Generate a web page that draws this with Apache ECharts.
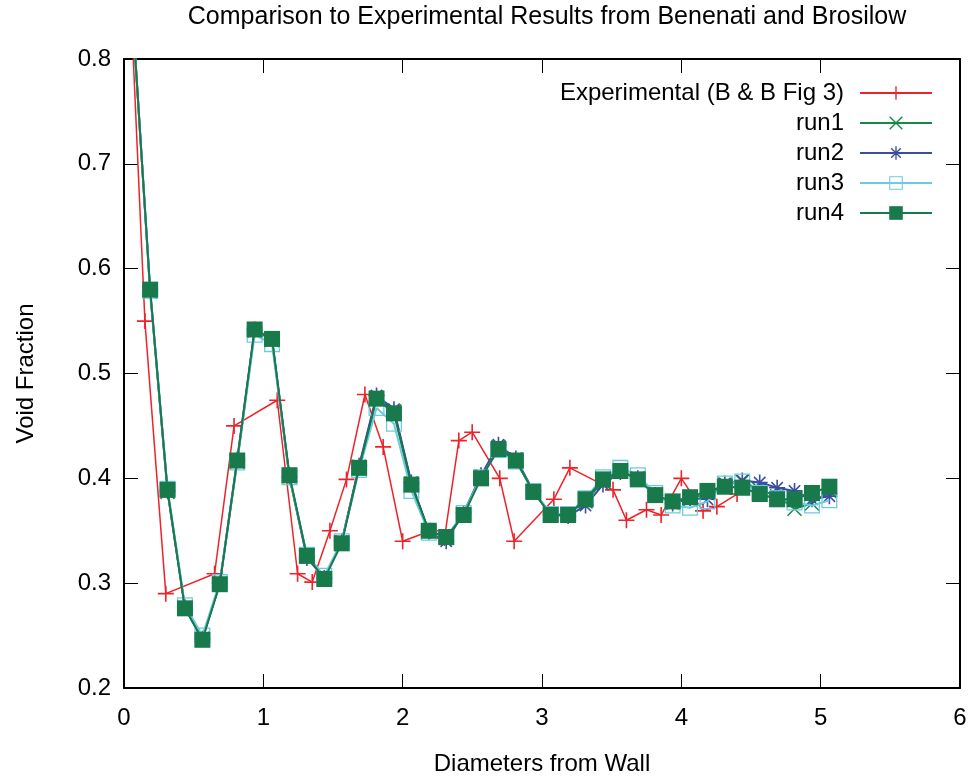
<!DOCTYPE html>
<html>
<head>
<meta charset="utf-8">
<script src="https://cdn.jsdelivr.net/npm/echarts@6/dist/echarts.min.js"></script>
<style>
html,body{margin:0;padding:0;background:#fff;}
#chart{width:971px;height:782px;}
</style>
</head>
<body>
<div id="chart"></div>
<script>
// Experimental (B & B Fig 3)
var expX = [0.0, 0.15, 0.30, 0.65, 0.79, 1.10, 1.246, 1.351, 1.478, 1.597, 1.729, 1.860, 2.0, 2.2, 2.3, 2.403, 2.499, 2.697, 2.80, 3.085, 3.20, 3.51, 3.606, 3.75, 3.855, 4.0, 4.156, 4.255, 4.4];
var expY = [1.0, 0.55, 0.290, 0.309, 0.450, 0.4745, 0.309, 0.301, 0.350, 0.399, 0.480, 0.430, 0.340, 0.350, 0.343, 0.436, 0.444, 0.400, 0.340, 0.380, 0.410, 0.389, 0.360, 0.370, 0.365, 0.400, 0.369, 0.373, 0.385];

// simulation bin centres
var runX = [0.0625, 0.1875, 0.3125, 0.4375, 0.5625, 0.6875, 0.8125, 0.9375, 1.0625, 1.1875,
            1.3125, 1.4375, 1.5625, 1.6875, 1.8125, 1.9375, 2.0625, 2.1875, 2.3125, 2.4375,
            2.5625, 2.6875, 2.8125, 2.9375, 3.0625, 3.1875, 3.3125, 3.4375, 3.5625, 3.6875,
            3.8125, 3.9375, 4.0625, 4.1875, 4.3125, 4.4375, 4.5625, 4.6875, 4.8125, 4.9375, 5.0625];

var run1 = [0.84, 0.578, 0.387, 0.276, 0.247, 0.299, 0.416, 0.541, 0.532, 0.402,
            0.326, 0.305, 0.339, 0.411, 0.477, 0.464, 0.395, 0.350, 0.343, 0.366,
            0.402, 0.430, 0.418, 0.388, 0.366, 0.366, 0.378, 0.397, 0.407, 0.400,
            0.384, 0.377, 0.380, 0.386, 0.394, 0.397, 0.389, 0.383, 0.371, 0.376, 0.388];
var run2 = [0.84, 0.580, 0.388, 0.277, 0.247, 0.300, 0.418, 0.542, 0.533, 0.401,
            0.324, 0.305, 0.340, 0.412, 0.479, 0.466, 0.396, 0.349, 0.340, 0.367,
            0.403, 0.432, 0.419, 0.388, 0.365, 0.364, 0.374, 0.394, 0.406, 0.400,
            0.384, 0.376, 0.381, 0.380, 0.395, 0.398, 0.396, 0.391, 0.388, 0.380, 0.383];
var run3 = [0.84, 0.579, 0.390, 0.279, 0.250, 0.301, 0.415, 0.537, 0.528, 0.401,
            0.327, 0.307, 0.340, 0.408, 0.467, 0.452, 0.388, 0.348, 0.344, 0.367,
            0.401, 0.427, 0.416, 0.388, 0.366, 0.366, 0.381, 0.401, 0.410, 0.403,
            0.386, 0.374, 0.372, 0.378, 0.395, 0.397, 0.386, 0.381, 0.377, 0.374, 0.379];
var run4 = [0.84, 0.580, 0.389, 0.276, 0.246, 0.299, 0.417, 0.542, 0.533, 0.403,
            0.326, 0.304, 0.338, 0.410, 0.476, 0.462, 0.394, 0.350, 0.344, 0.365,
            0.400, 0.428, 0.417, 0.387, 0.365, 0.365, 0.380, 0.399, 0.407, 0.399,
            0.384, 0.378, 0.382, 0.388, 0.392, 0.391, 0.385, 0.380, 0.380, 0.386, 0.392];

var xTicks = [0, 1, 2, 3, 4, 5, 6];
var yTicks = [0.2, 0.3, 0.4, 0.5, 0.6, 0.7, 0.8];

function pairs(xs, ys) { return xs.map(function (x, i) { return [x, ys[i]]; }); }

var PLUS = 'path://M-1,-10 L1,-10 L1,-1 L10,-1 L10,1 L1,1 L1,10 L-1,10 L-1,1 L-10,1 L-10,-1 L-1,-1 Z';
var CROSS = 'path://M-10,-8.6 L-8.6,-10 L0,-1.4 L8.6,-10 L10,-8.6 L1.4,0 L10,8.6 L8.6,10 L0,1.4 L-8.6,10 L-10,8.6 L-1.4,0 Z';
var STAR = 'path://M-1,-10 L1,-10 L1,-1 L10,-1 L10,1 L1,1 L1,10 L-1,10 L-1,1 L-10,1 L-10,-1 L-1,-1 Z M-7.8,-6.4 L-6.4,-7.8 L0,-1.4 L6.4,-7.8 L7.8,-6.4 L1.4,0 L7.8,6.4 L6.4,7.8 L0,1.4 L-6.4,7.8 L-7.8,6.4 L-1.4,0 Z';
var OSQ = 'path://M-10,-10 L10,-10 L10,10 L-10,10 Z M-8.4,-8.4 L-8.4,8.4 L8.4,8.4 L8.4,-8.4 Z';

var fontFam = 'Liberation Sans, Arial, Helvetica, sans-serif';
var axisCol = '#000';

var chart = echarts.init(document.getElementById('chart'), null, {renderer: 'canvas'});

function lineSeries(name, data, color, symbol, size, width, z) {
  return {
    name: name, type: 'line', data: data,
    symbol: symbol, symbolSize: size, symbolKeepAspect: true,
    showAllSymbol: true, clip: true, z: z,
    lineStyle: {color: color, width: width},
    itemStyle: {color: color, borderWidth: 0},
    emphasis: {disabled: true},
    animation: false
  };
}

var option = {
  backgroundColor: '#fff',
  animation: false,
  title: {
    text: 'Comparison to Experimental Results from Benenati and Brosilow',
    left: 542, top: 0, textAlign: 'center',
    textStyle: {fontFamily: fontFam, fontSize: 25, fontWeight: 'normal', color: '#000'}
  },
  grid: {left: 124, top: 59, right: 11, bottom: 94, containLabel: false},
  legend: {
    orient: 'vertical', right: 33, top: 76, align: 'right',
    itemWidth: 72, itemHeight: 17, itemGap: 6,
    textStyle: {fontFamily: fontFam, fontSize: 24, color: '#000', padding: [0, 11, 0, 0]},
    selectedMode: false,
    data: ['Experimental (B & B Fig 3)', 'run1', 'run2', 'run3', 'run4']
  },
  xAxis: [{
    type: 'value', min: 0, max: 6, interval: 1,
    name: 'Diameters from Wall', nameLocation: 'middle', nameGap: 64,
    nameTextStyle: {fontFamily: fontFam, fontSize: 24, color: '#000'},
    axisLine: {show: true, onZero: false, lineStyle: {color: axisCol, width: 2}},
    axisTick: {show: true, inside: true, length: 14, lineStyle: {color: axisCol, width: 1}},
    axisLabel: {fontFamily: fontFam, fontSize: 24, color: '#000', margin: 18},
    splitLine: {show: false}
  }, {
    type: 'value', min: 0, max: 6, interval: 1, position: 'top',
    axisLine: {show: true, onZero: false, lineStyle: {color: axisCol, width: 2}},
    axisTick: {show: true, inside: true, length: 14, lineStyle: {color: axisCol, width: 1}},
    axisLabel: {show: false}, splitLine: {show: false}
  }],
  yAxis: [{
    type: 'value', min: 0.2, max: 0.8, interval: 0.1,
    name: 'Void Fraction', nameLocation: 'middle', nameGap: 86, nameRotate: 90,
    nameTextStyle: {fontFamily: fontFam, fontSize: 24, color: '#000'},
    axisLine: {show: true, onZero: false, lineStyle: {color: axisCol, width: 2}},
    axisTick: {show: true, inside: true, length: 14, lineStyle: {color: axisCol, width: 1}},
    axisLabel: {fontFamily: fontFam, fontSize: 24, color: '#000', margin: 13,
      formatter: function (v) { return v.toFixed(1); }},
    splitLine: {show: false}
  }, {
    type: 'value', min: 0.2, max: 0.8, interval: 0.1, position: 'right',
    axisLine: {show: true, onZero: false, lineStyle: {color: axisCol, width: 2}},
    axisTick: {show: true, inside: true, length: 14, lineStyle: {color: axisCol, width: 1}},
    axisLabel: {show: false}, splitLine: {show: false}
  }],
  series: [
    lineSeries('Experimental (B & B Fig 3)', pairs(expX, expY), '#ee2229', PLUS, 16, 1.5, 2),
    lineSeries('run1', pairs(runX, run1), '#16894a', CROSS, 15, 2, 3),
    lineSeries('run2', pairs(runX, run2), '#3a4d9f', STAR, 16, 2, 4),
    lineSeries('run3', pairs(runX, run3), '#6ccbe0', OSQ, 16, 2, 5),
    lineSeries('run4', pairs(runX, run4), '#187a4b', 'rect', 16, 2, 6)
  ]
};
chart.setOption(option);
</script>
</body>
</html>
